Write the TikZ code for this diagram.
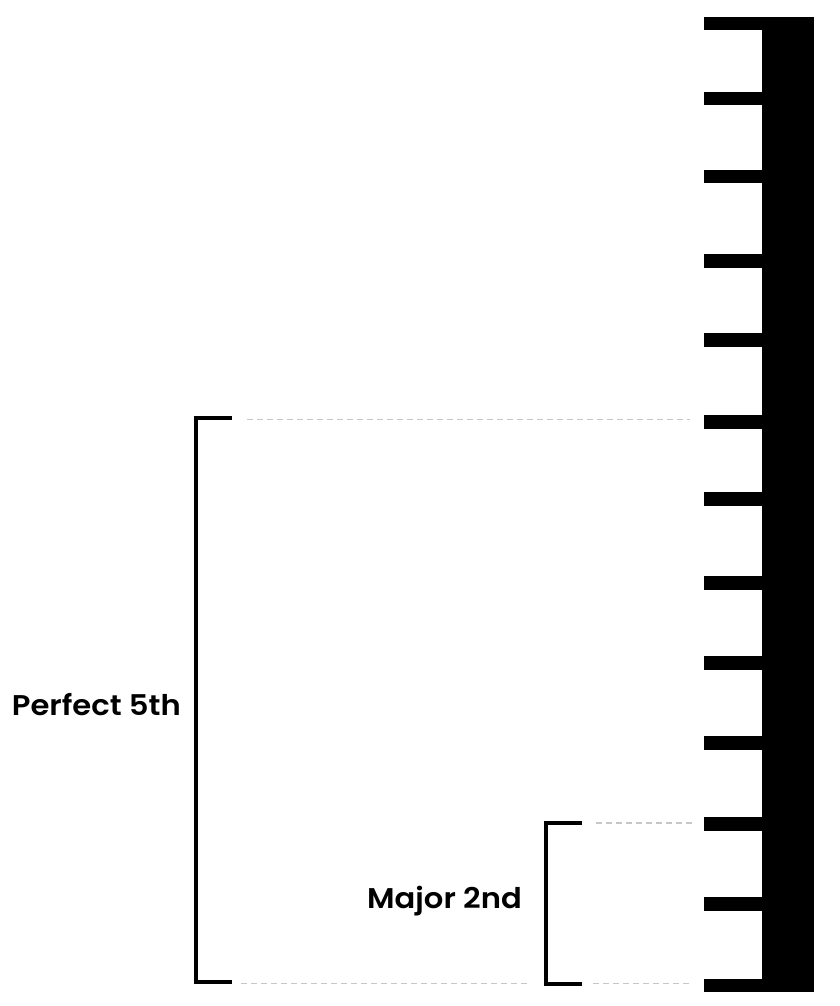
\documentclass[tikz,border=0pt]{standalone}
\usepackage{fontspec}
\setmainfont{Poppins}[BoldFont={* SemiBold}, BoldFeatures={FakeStretch=1.075}]
\begin{document}
\begin{tikzpicture}[x=1pt,y=-1pt,
  tickmark/.style={fill=black},
  bracketline/.style={line width=4pt, draw=black, line cap=butt, line join=miter},
  guide/.style={draw=black!22, line width=1.6pt, dash pattern=on 6pt off 4pt},
  lab/.style={font=\fontsize{28.5}{30}\selectfont\bfseries, inner sep=0pt, text=black}]
\useasboundingbox (0,0) rectangle (839,1006);
% bar
\fill[black] (762,17) rectangle (814,992);
% ticks
\foreach \c in {23.5,98.3,176.5,261,340,422,499,583,663,743,824,904,985.2}{
  \fill[tickmark] (703.5,\c-6.6) rectangle (763,\c+6.6);
}
% Perfect 5th bracket
\coordinate (p5t) at (232,418);
\coordinate (p5b) at (232,981.5);
\draw[bracketline] (p5t) -- (195.5,418) -- (195.5,981.5) -- (p5b);
\coordinate (g1a) at (247,419.5);
\coordinate (g1b) at (690,419.5);
\draw[guide] (g1a) -- (g1b);
\coordinate (g2a) at (241,983.3);
\coordinate (g2b) at (528,983.3);
\draw[guide] (g2a) -- (g2b);
\node[lab, anchor=east] (p5) at (181,705) {Perfect 5th};
% Major 2nd bracket
\coordinate (m2t) at (582,822.7);
\coordinate (m2b) at (582,983.7);
\draw[bracketline] (m2t) -- (545.5,822.7) -- (545.5,983.7) -- (m2b);
\coordinate (g3a) at (596,823);
\coordinate (g3b) at (693,823);
\draw[guide] (g3a) -- (g3b);
\coordinate (g4a) at (593,983.5);
\coordinate (g4b) at (690,983.5);
\draw[guide] (g4a) -- (g4b);
\node[lab, anchor=east] (m2) at (522,901) {Major 2nd};
\end{tikzpicture}
\end{document}
